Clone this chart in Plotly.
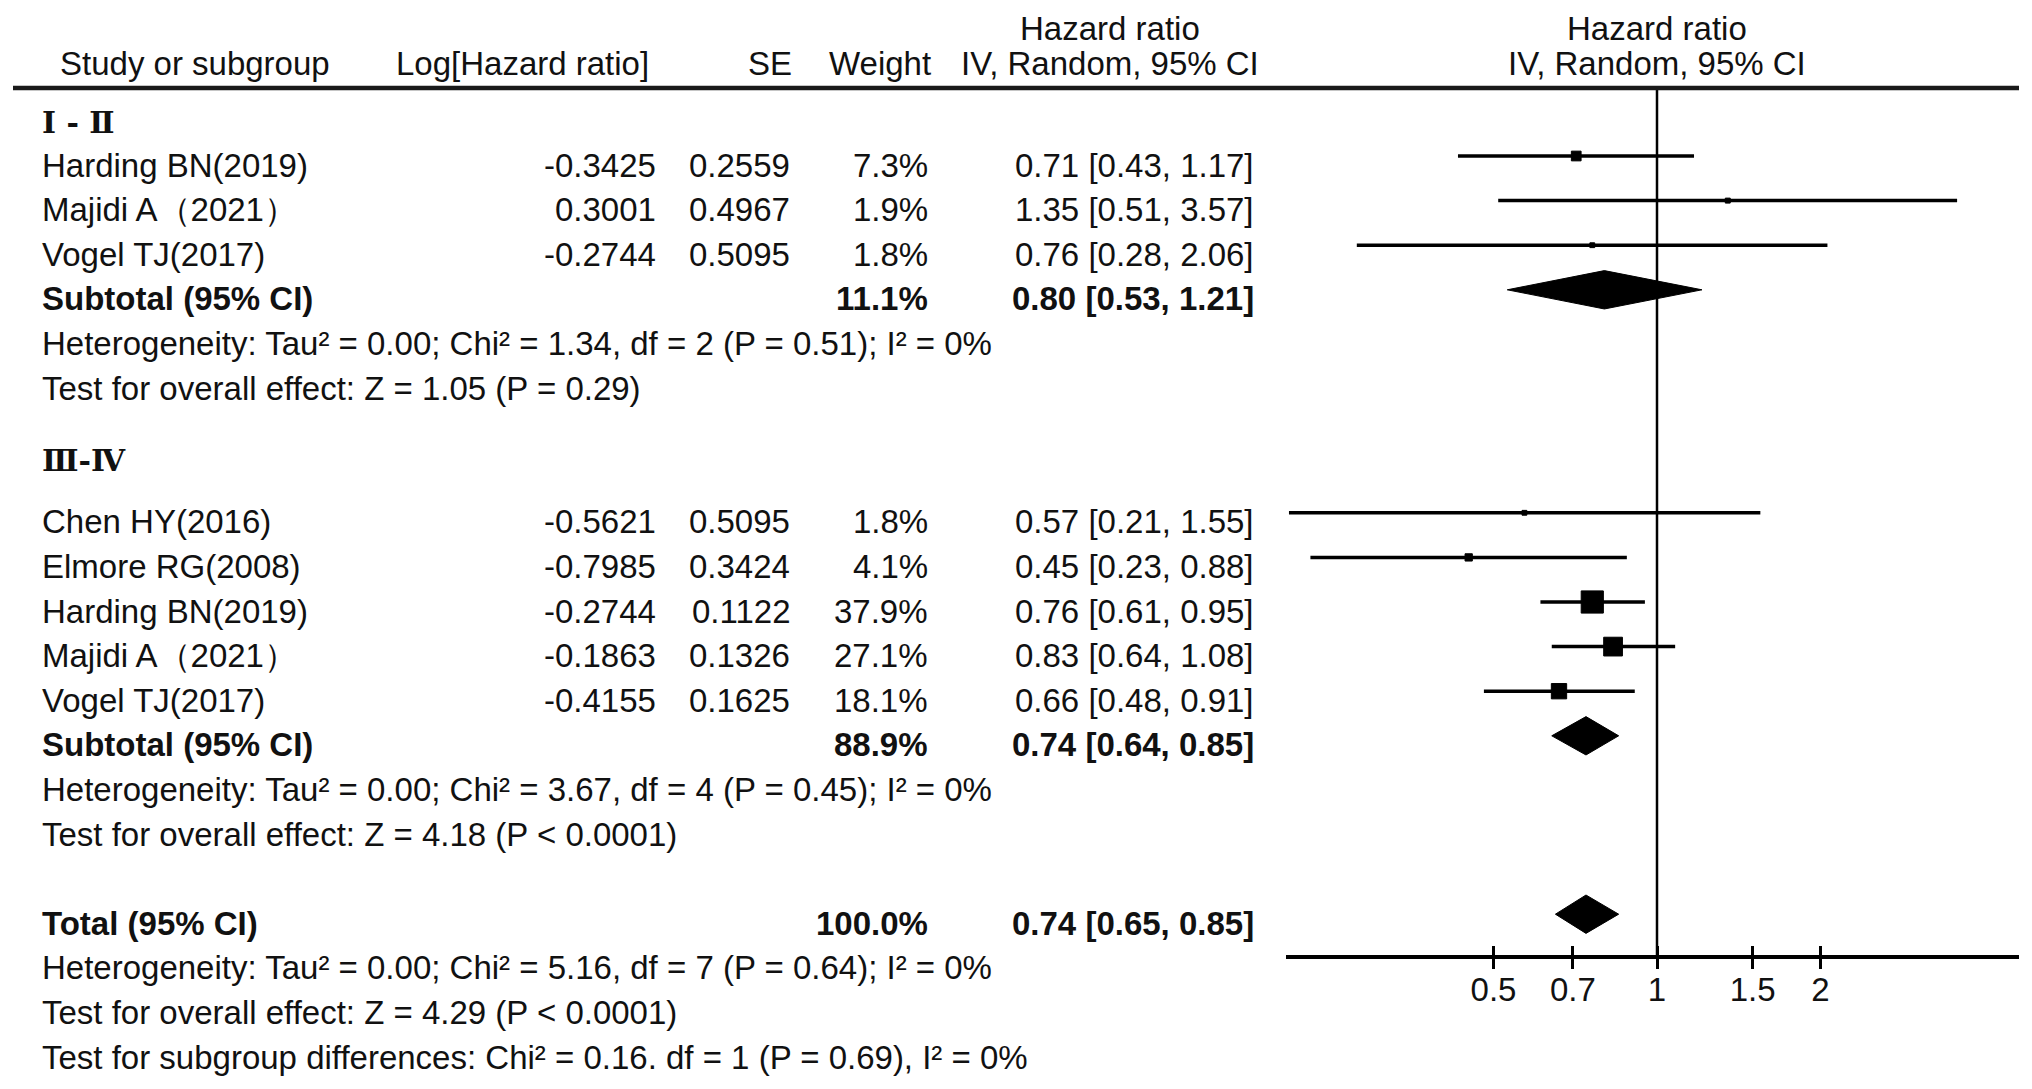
import math
import plotly.graph_objects as go

W, H = 2032, 1089          # screenshot size
OFF = 8                    # default page margin around the figure
FW, FH = W - 2 * OFF, H - 2 * OFF

# ---------------- data ----------------
group_labels = ["Ⅰ - Ⅱ", "Ⅲ-Ⅳ"]

g1_names = ["Harding BN(2019)", "Majidi A（2021）", "Vogel TJ(2017)"]
g1_loghr = ["-0.3425", "0.3001", "-0.2744"]
g1_se = ["0.2559", "0.4967", "0.5095"]
g1_weight = [7.3, 1.9, 1.8]
g1_hr = [0.71, 1.35, 0.76]
g1_lo = [0.43, 0.51, 0.28]
g1_hi = [1.17, 3.57, 2.06]

g2_names = ["Chen HY(2016)", "Elmore RG(2008)", "Harding BN(2019)", "Majidi A（2021）", "Vogel TJ(2017)"]
g2_loghr = ["-0.5621", "-0.7985", "-0.2744", "-0.1863", "-0.4155"]
g2_se = ["0.5095", "0.3424", "0.1122", "0.1326", "0.1625"]
g2_weight = [1.8, 4.1, 37.9, 27.1, 18.1]
g2_hr = [0.57, 0.45, 0.76, 0.83, 0.66]
g2_lo = [0.21, 0.23, 0.61, 0.64, 0.48]
g2_hi = [1.55, 0.88, 0.95, 1.08, 0.91]

sub_weight = [11.1, 88.9]
sub_hr = [0.80, 0.74]
sub_lo = [0.53, 0.64]
sub_hi = [1.21, 0.85]

total_weight = 100.0
total_hr = 0.74
total_lo = 0.65
total_hi = 0.85

het_texts = [
    "Heterogeneity: Tau² = 0.00; Chi² = 1.34, df = 2 (P = 0.51); I² = 0%",
    "Heterogeneity: Tau² = 0.00; Chi² = 3.67, df = 4 (P = 0.45); I² = 0%",
    "Heterogeneity: Tau² = 0.00; Chi² = 5.16, df = 7 (P = 0.64); I² = 0%",
]
effect_texts = [
    "Test for overall effect: Z = 1.05 (P = 0.29)",
    "Test for overall effect: Z = 4.18 (P < 0.0001)",
    "Test for overall effect: Z = 4.29 (P < 0.0001)",
]
subgroup_text = "Test for subgroup differences: Chi² = 0.16. df = 1 (P = 0.69), I² = 0%"

tick_vals = [0.5, 0.7, 1, 1.5, 2]
tick_text = ["0.5", "0.7", "1", "1.5", "2"]

# ---------------- layout constants ----------------
ROW_PX = 44.6          # pixel height of one row
ROW0_PX = 111.4        # screen pixel y of row 0
FONT = "Liberation Sans, Arial, sans-serif"
SERIF = "DejaVu Serif, Liberation Serif, serif"
FS = 33
TXT = "#111111"
TEXT_SHIFT = -9

# x columns (screen pixels)
X_NAME = 40
X_LOG = 658
X_SE = 792
X_W = 930
X_CI = 1256
X_HDR_CI = 1110
PLOT_L, PLOT_R, X_ONE = 1286, 2019, 1657
PX_DEC = 543.0
AXIS_Y = 957

# row slots
rows_g1 = [1, 2, 3]
row_sub = [4, 14]
row_het = [5, 15, 19]
row_eff = [6, 16, 20]
rows_g2 = [9, 10, 11, 12, 13]
row_total = 18
row_subgroup = 21
row_group_hdr = [0.24, 7.82]
row_hdr1, row_hdr2 = -1.86, -1.085
row_hline = -0.525
row_axis = (AXIS_Y - ROW0_PX) / ROW_PX

y_top = (OFF - ROW0_PX) / ROW_PX
y_bot = (H - OFF - ROW0_PX) / ROW_PX


def px(x):
    return (x - OFF) / FW


fig = go.Figure()
ann = []


def txt(xpx, row, s, anchor="left", bold=False, shift=TEXT_SHIFT, family=FONT, size=FS):
    ann.append(dict(
        x=px(xpx), xref="paper", y=row, yref="y", text=s, showarrow=False,
        xanchor=anchor, yanchor="middle", yshift=shift,
        font=dict(family=family, size=size, color=TXT, weight="bold" if bold else "normal"),
    ))


def fmt_ci(h, l, u):
    return f"{h:.2f} [{l:.2f}, {u:.2f}]"


# headers
txt(58, row_hdr2, "Study or subgroup", shift=0)
txt(651, row_hdr2, "Log[Hazard ratio]", anchor="right", shift=0)
txt(794, row_hdr2, "SE", anchor="right", shift=0)
txt(933, row_hdr2, "Weight", anchor="right", shift=0)
txt(X_HDR_CI, row_hdr1, "Hazard ratio", anchor="center", shift=0)
txt(X_HDR_CI, row_hdr2, "IV, Random, 95% CI", anchor="center", shift=0)
txt(X_ONE, row_hdr1, "Hazard ratio", anchor="center", shift=0)
txt(X_ONE, row_hdr2, "IV, Random, 95% CI", anchor="center", shift=0)

# group headers
for lab, r in zip(group_labels, row_group_hdr):
    txt(X_NAME, r, lab, bold=True, shift=0, family=SERIF, size=30)

studies = [
    (g1_names, g1_loghr, g1_se, g1_weight, g1_hr, g1_lo, g1_hi, rows_g1),
    (g2_names, g2_loghr, g2_se, g2_weight, g2_hr, g2_lo, g2_hi, rows_g2),
]

for gi, (names, lhr, se, wt, hr, lo, hi, rows) in enumerate(studies):
    for n, a, b, w, h, l, u, r in zip(names, lhr, se, wt, hr, lo, hi, rows):
        txt(X_NAME, r, n)
        txt(X_LOG, r, a, anchor="right")
        txt(X_SE, r, b, anchor="right")
        txt(X_W, r, f"{w:.1f}%", anchor="right")
        txt(X_CI, r, fmt_ci(h, l, u), anchor="right")
        # CI line
        fig.add_trace(go.Scatter(
            x=[l, u], y=[r, r], mode="lines",
            line=dict(color="black", width=3.5), hoverinfo="skip", showlegend=False,
        ))
    # squares (area proportional to weight)
    fig.add_trace(go.Scatter(
        x=hr, y=rows, mode="markers", opacity=1,
        marker=dict(symbol="square", color="black", opacity=1,
                    size=[max(3.6 * math.sqrt(w), 4.5) for w in wt],
                    line=dict(width=1, color="black")),
        hoverinfo="skip", showlegend=False,
    ))
    # subtotal
    rs = row_sub[gi]
    txt(X_NAME, rs, "Subtotal (95% CI)", bold=True)
    txt(X_W, rs, f"{sub_weight[gi]:.1f}%", anchor="right", bold=True)
    txt(X_CI, rs, fmt_ci(sub_hr[gi], sub_lo[gi], sub_hi[gi]), anchor="right", bold=True)
    txt(X_NAME, row_het[gi], het_texts[gi])
    txt(X_NAME, row_eff[gi], effect_texts[gi])

# total
txt(X_NAME, row_total, "Total (95% CI)", bold=True)
txt(X_W, row_total, f"{total_weight:.1f}%", anchor="right", bold=True)
txt(X_CI, row_total, fmt_ci(total_hr, total_lo, total_hi), anchor="right", bold=True)
txt(X_NAME, row_het[2], het_texts[2])
txt(X_NAME, row_eff[2], effect_texts[2])
txt(X_NAME, row_subgroup, subgroup_text)

# diamonds
DH = 0.43
for h, l, u, r in zip(sub_hr + [total_hr], sub_lo + [total_lo], sub_hi + [total_hi], row_sub + [row_total]):
    fig.add_trace(go.Scatter(
        x=[l, h, u, h, l], y=[r, r - DH, r, r + DH, r], mode="lines",
        fill="toself", fillcolor="black", line=dict(color="black", width=1),
        hoverinfo="skip", showlegend=False,
    ))

# line of no effect
fig.add_trace(go.Scatter(
    x=[1, 1], y=[row_hline, row_axis], mode="lines",
    line=dict(color="black", width=2.5), hoverinfo="skip", showlegend=False,
))

# header rule
shapes = [dict(type="line", xref="paper", yref="y", x0=px(13), x1=px(2019),
               y0=row_hline, y1=row_hline, line=dict(color="#1a1a1a", width=4.5))]

x_range = [(PLOT_L - X_ONE) / PX_DEC, (PLOT_R - X_ONE) / PX_DEC]
x_dom = [px(PLOT_L), px(PLOT_R)]
axis_pos = 1 - (AXIS_Y - OFF) / FH

common = dict(type="log", domain=x_dom, range=x_range, anchor="free",
              position=axis_pos, tickvals=tick_vals, showgrid=False, zeroline=False)

fig.update_layout(
    width=FW, height=FH,
    margin=dict(l=0, r=0, t=0, b=0),
    paper_bgcolor="white", plot_bgcolor="white",
    showlegend=False,
    annotations=ann, shapes=shapes,
    # axis line + tick labels
    xaxis=dict(**common, showline=True, linecolor="black", linewidth=4,
               ticks="", ticktext=tick_text, ticklabelstandoff=2,
               tickfont=dict(family=FONT, size=FS, color=TXT)),
    # tick marks above the line
    xaxis2=dict(**common, overlaying="x", showline=False, ticks="inside",
                ticklen=11, tickwidth=3, tickcolor="black", showticklabels=False),
    # tick marks below the line
    xaxis3=dict(**common, overlaying="x", showline=False, ticks="outside",
                ticklen=11, tickwidth=3, tickcolor="black", showticklabels=False),
    yaxis=dict(range=[y_bot, y_top], domain=[0, 1], visible=False,
               showgrid=False, zeroline=False),
)

# invisible anchors so the overlaid tick axes are drawn
for ax in ("x2", "x3"):
    fig.add_trace(go.Scatter(x=[1], y=[row_axis], xaxis=ax, mode="markers",
                             marker=dict(size=1, color="rgba(0,0,0,0)"),
                             hoverinfo="skip", showlegend=False))

fig.write_html("out.html")
